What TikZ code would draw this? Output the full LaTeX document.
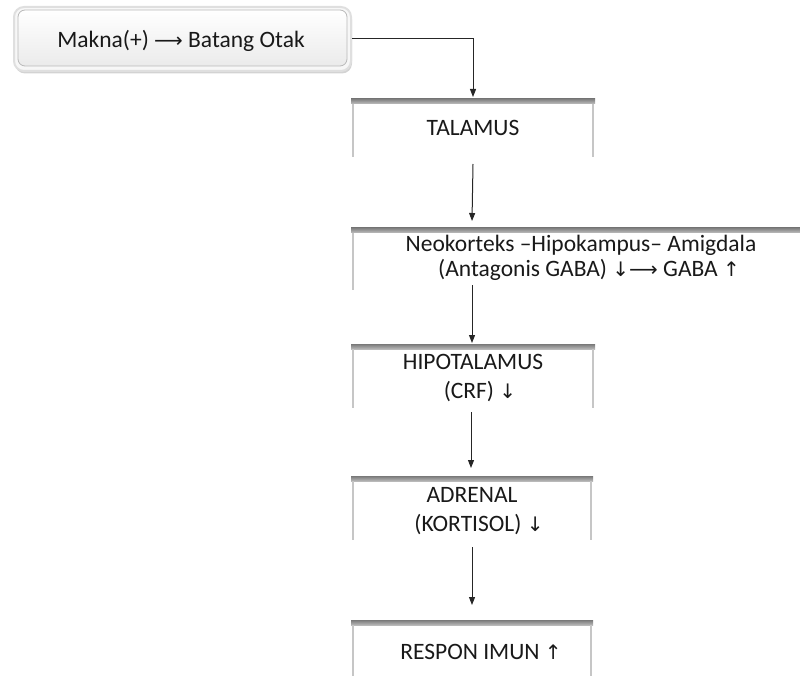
\documentclass[tikz,border=0pt]{standalone}
\usepackage{fontspec}
\setmainfont{Carlito}
\newfontfamily\arrfont{DejaVu Sans}
\usetikzlibrary{arrows.meta,shadows}
\newcommand{\ar}[1]{{\arrfont\fontsize{20}{22}\selectfont #1}}
\begin{document}
\begin{tikzpicture}[x=1pt,y=-1pt,
  txt/.style={font=\fontsize{23.5}{27}\selectfont, inner sep=0pt, text=black!90},
  conn/.style={line width=1pt, draw=black!85, -{Triangle[length=8pt,width=6pt]}},
  side/.style={draw=gray!45, line width=1.8pt},
  bar/.style={top color=gray!95!black, bottom color=gray!55}]
\useasboundingbox (0,0) rectangle (800,676);

% first box
\node[draw=gray!25, line width=2pt, rounded corners=10pt, fill=gray!6,
      drop shadow={shadow xshift=1pt, shadow yshift=-2.5pt, opacity=0.35},
      minimum width=337pt, minimum height=64pt, inner sep=0pt] (b1) at (182.5,39) {};
\node[draw=gray!55, line width=0.8pt, rounded corners=7pt, top color=white, bottom color=gray!16,
      minimum width=329pt, minimum height=56pt, inner sep=0pt] (b1in) at (182.5,38) {};
\node[txt] (t1) at (181,41) {Makna(+)~\ar{⟶}~Batang Otak};

% open boxes: top bars and sides
\shade[bar] (351,98.5) rectangle (595,103.5);
\draw[side] (353,104) -- (353,157);
\draw[side] (593,104) -- (593,157);

\shade[bar] (351,227.5) rectangle (800,232.5);
\draw[side] (353,233) -- (353,290);

\shade[bar] (351,344) rectangle (595,349);
\draw[side] (353,349) -- (353,408);
\draw[side] (593,349) -- (593,408);

\shade[bar] (351,476) rectangle (593,481);
\draw[side] (353,481) -- (353,540);
\draw[side] (591,481) -- (591,540);

\shade[bar] (351,620) rectangle (593,625);
\draw[side] (353,625) -- (353,676);
\draw[side] (591,625) -- (591,676);

% texts
\node[txt] (tal) at (473,128) {TALAMUS};
\node[txt] (neo1) at (581,245) {Neokorteks –Hipokampus– Amigdala};
\node[txt] (neo2) at (589,270) {(Antagonis GABA) \ar{↓}\ar{⟶} GABA \ar{↑}};
\node[txt] (hip1) at (473,362) {HIPOTALAMUS};
\node[txt] (hip2) at (480,392) {(CRF) \ar{↓}};
\node[txt] (adr1) at (472,495) {ADRENAL};
\node[txt] (adr2) at (479,525) {(KORTISOL) \ar{↓}};
\node[txt] (res) at (481,652) {RESPON IMUN \ar{↑}};

% connector anchors
\coordinate (talTop) at (473,97);
\coordinate (talOut) at (473,164);
\coordinate (neoTop) at (472,221);
\coordinate (neoOut) at (472,285);
\coordinate (hipTop) at (472,343);
\coordinate (hipOut) at (471,412);
\coordinate (adrTop) at (471,468);
\coordinate (adrOut) at (472,547);
\coordinate (resTop) at (472,605);

\draw[conn] (b1.east) -| (talTop);
\draw[conn] (talOut) -- (neoTop);
\draw[conn] (neoOut) -- (hipTop);
\draw[conn] (hipOut) -- (adrTop);
\draw[conn] (adrOut) -- (resTop);
\end{tikzpicture}
\end{document}
